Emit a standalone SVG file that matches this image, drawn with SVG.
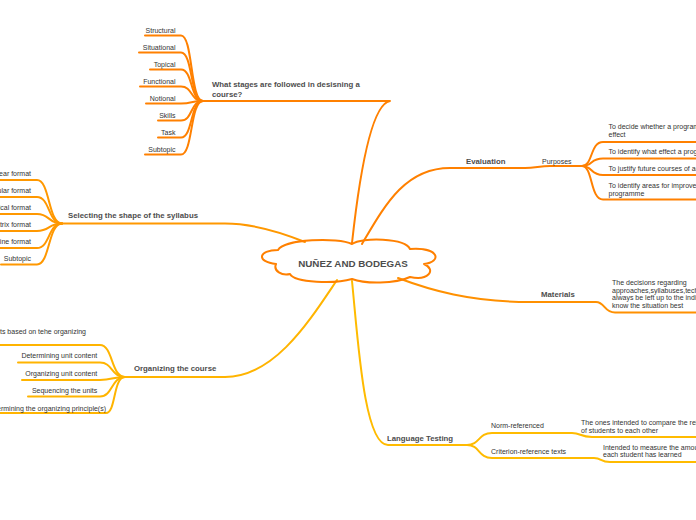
<svg xmlns="http://www.w3.org/2000/svg" width="696" height="520" viewBox="0 0 696 520">
<style>
.t{font-family:"Liberation Sans",Arial,sans-serif;font-size:7px;fill:#333}
.b{font-family:"Liberation Sans",Arial,sans-serif;font-size:7.8px;font-weight:bold;fill:#4d4d4d}
.c{font-family:"Liberation Sans",Arial,sans-serif;font-size:9.8px;font-weight:bold;fill:#4d4d4d}
.e{text-anchor:end}
path{fill:none;stroke-linecap:round;stroke-linejoin:round}
.o1{stroke:#ff8000;stroke-width:2}
.o2{stroke:#ff9800;stroke-width:2}
.o3{stroke:#ffb400;stroke-width:2}
.o4{stroke:#ff9000;stroke-width:2}
.o5{stroke:#ffbb00;stroke-width:2}
</style>
<rect width="696" height="520" fill="#fff"/>
<g id="connectors">
<path class="o1" d="M352,243 C360,170 372,104 390,101 L200,101"/>
<path class="o1" d="M145,35.5 L181,35.5 C193,35.5 190,101 203,101"/>
<path class="o1" d="M139,52.5 L181,52.5 C193,52.5 190,101 203,101"/>
<path class="o1" d="M150,69.5 L181,69.5 C193,69.5 190,101 203,101"/>
<path class="o1" d="M140,86.5 L181,86.5 C193,86.5 190,101 203,101"/>
<path class="o1" d="M146,103.5 L181,103.5 C193,103.5 190,101 203,101"/>
<path class="o1" d="M158,120.5 L181,120.5 C193,120.5 190,101 203,101"/>
<path class="o1" d="M158,137.5 L181,137.5 C193,137.5 190,101 203,101"/>
<path class="o1" d="M145,154.5 L181,154.5 C193,154.5 190,101 203,101"/>
<path class="o2" d="M305,242 C285,234 255,223.5 225,223.5 L60,223.5"/>
<path class="o2" d="M0,180 L37,180 C50,180 48,223.5 62,223.5"/>
<path class="o2" d="M0,197 L37,197 C50,197 48,223.5 62,223.5"/>
<path class="o2" d="M0,214 L37,214 C50,214 48,223.5 62,223.5"/>
<path class="o2" d="M0,231 L37,231 C50,231 48,223.5 62,223.5"/>
<path class="o2" d="M0,248 L37,248 C50,248 48,223.5 62,223.5"/>
<path class="o2" d="M1,264.5 L37,264.5 C50,264.5 48,223.5 62,223.5"/>
<path class="o3" d="M337,280 C310,320 275,377 225,377 L124,377"/>
<path class="o3" d="M0,345 L100,345 C113,345 111,377 125,377"/>
<path class="o3" d="M18,362.5 L100,362.5 C113,362.5 111,377 125,377"/>
<path class="o3" d="M22,380 L100,380 C113,380 111,377 125,377"/>
<path class="o3" d="M28,396.5 L100,396.5 C113,396.5 111,377 125,377"/>
<path class="o3" d="M0,413 L106,413 C116,413 113,377 125,377"/>
<path class="o1" d="M362,244 C385,205 405,168 450,168 L525,168 C535,168 540,166 550,166 L582,166"/>
<path class="o1" d="M582,166 C593,166 590,142 603,142 L696,142"/>
<path class="o1" d="M582,166 C593,166 590,158.5 603,158.5 L696,158.5"/>
<path class="o1" d="M582,166 C593,166 590,175 603,175 L696,175"/>
<path class="o1" d="M582,166 C593,166 590,199.5 603,199.5 L696,199.5"/>
<path class="o4" d="M398,278 C430,290 470,302 530,302 L596,302 C605,302 604,312.5 615,312.5 L696,312.5"/>
<path class="o5" d="M352,281 C358,340 364,445 388,445 L467,445"/>
<path class="o5" d="M467,445 C480,445 478,433 492,433 L572,433 C581,433 580,437 592,437 L696,437"/>
<path class="o5" d="M467,445 C480,445 478,458 492,458 L594,458 C602,458 600,462 610,462 L696,462"/>
</g>
<g id="center">
<path d="M276,264 C256,262 258,250 278,250 C284,239 338,237 352,244 C362,237 405,238 410,249 C440,247 442,262 424,264 C437,270 428,281 410,277 C395,284 365,284 352,279 C335,284 295,283 290,274 C282,276 273,271 276,264 Z" fill="#fff" stroke="#ff8000" stroke-width="2"/>
<text class="c" x="353" y="266.7" text-anchor="middle">NUÑEZ AND BODEGAS</text>
</g>
<g id="n-stages">
<text class="b" x="212" y="87">What stages are followed in desisning a</text>
<text class="b" x="212" y="96.5">course?</text>
</g>
<g id="n-structural"><text class="t e" x="175.5" y="33">Structural</text></g>
<g id="n-situational"><text class="t e" x="175.5" y="49.8">Situational</text></g>
<g id="n-topical"><text class="t e" x="175.5" y="66.8">Topical</text></g>
<g id="n-functional"><text class="t e" x="175.5" y="83.8">Functional</text></g>
<g id="n-notional"><text class="t e" x="175.5" y="101">Notional</text></g>
<g id="n-skills"><text class="t e" x="175.5" y="118">Skills</text></g>
<g id="n-task"><text class="t e" x="175.5" y="134.8">Task</text></g>
<g id="n-subtopic1"><text class="t e" x="175.5" y="151.8">Subtopic</text></g>
<g id="n-selecting"><text class="b" x="68" y="218.3">Selecting the shape of the syllabus</text></g>
<g id="n-linear"><text class="t e" x="31" y="175.6">Linear format</text></g>
<g id="n-modular"><text class="t e" x="31" y="193">Modular format</text></g>
<g id="n-cyclical"><text class="t e" x="31" y="210">Cyclical format</text></g>
<g id="n-matrix"><text class="t e" x="31" y="226.6">Matrix format</text></g>
<g id="n-storyline"><text class="t e" x="31" y="243.6">Story line format</text></g>
<g id="n-subtopic2"><text class="t e" x="31" y="260.6">Subtopic</text></g>
<g id="n-organizing"><text class="b" x="134" y="371">Organizing the course</text></g>
<g id="n-developing"><text class="t e" x="86" y="334">Developing units based on tehe organizing</text></g>
<g id="n-determining"><text class="t e" x="97.3" y="358.3">Determining unit content</text></g>
<g id="n-orgunit"><text class="t e" x="97.3" y="375.6">Organizing unit content</text></g>
<g id="n-sequencing"><text class="t e" x="97.3" y="393">Sequencing the units</text></g>
<g id="n-principle"><text class="t e" x="106" y="410.6">Determining the organizing principle(s)</text></g>
<g id="n-evaluation"><text class="b" x="466" y="163.5">Evaluation</text></g>
<g id="n-purposes"><text class="t" x="542" y="163.5">Purposes</text></g>
<g id="n-p1"><text class="t" x="608.5" y="128.8">To decide whether a programme has had the intended</text><text class="t" x="608.5" y="137">effect</text></g>
<g id="n-p2"><text class="t" x="608.5" y="154">To identify what effect a programme is having</text></g>
<g id="n-p3"><text class="t" x="608.5" y="171">To justify future courses of action</text></g>
<g id="n-p4"><text class="t" x="608.5" y="187.5">To identify areas for improvement in an ongoing</text><text class="t" x="608.5" y="196">programme</text></g>
<g id="n-materials"><text class="b" x="541" y="297">Materials</text></g>
<g id="n-mat1">
<text class="t" x="612" y="285">The decisions regarding</text>
<text class="t" x="612" y="292.7">approaches,syllabuses,techniques and materials should</text>
<text class="t" x="612" y="300.4">always be left up to the individual teachers who</text>
<text class="t" x="612" y="308">know the situation best</text>
</g>
<g id="n-testing"><text class="b" x="387" y="441">Language Testing</text></g>
<g id="n-norm"><text class="t" x="491" y="428.3">Norm-referenced</text></g>
<g id="n-norm1"><text class="t" x="581" y="425">The ones intended to compare the relative achievement</text><text class="t" x="581" y="433">of students to each other</text></g>
<g id="n-criterion"><text class="t" x="491" y="454">Criterion-reference texts</text></g>
<g id="n-crit1"><text class="t" x="603" y="449.6">Intended to measure the amount of material</text><text class="t" x="603" y="457.3">each student has learned</text></g>
</svg>
